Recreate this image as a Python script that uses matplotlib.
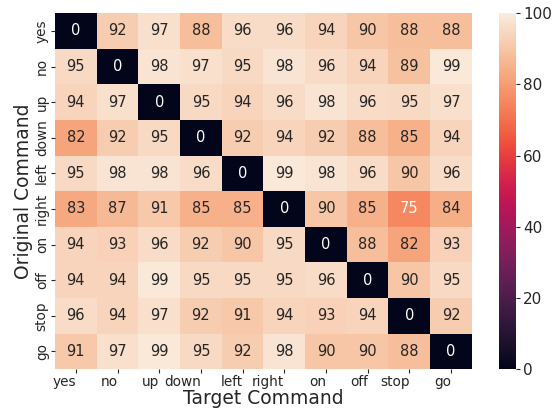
import numpy as np
import matplotlib
matplotlib.use("Agg")
import matplotlib.pyplot as plt
import seaborn as sns

commands = ["yes", "no", "up", "down", "left", "right", "on", "off", "stop", "go"]

rate = np.array([
    [0, 92, 97, 88, 96, 96, 94, 90, 88, 88],
    [95, 0, 98, 97, 95, 98, 96, 94, 89, 99],
    [94, 97, 0, 95, 94, 96, 98, 96, 95, 97],
    [82, 92, 95, 0, 92, 94, 92, 88, 85, 94],
    [95, 98, 98, 96, 0, 99, 98, 96, 90, 96],
    [83, 87, 91, 85, 85, 0, 90, 85, 75, 84],
    [94, 93, 96, 92, 90, 95, 0, 88, 82, 93],
    [94, 94, 99, 95, 95, 95, 96, 0, 90, 95],
    [96, 94, 97, 92, 91, 94, 93, 94, 0, 92],
    [91, 97, 99, 95, 92, 98, 90, 90, 88, 0],
])

plt.rcParams["text.color"] = "#262626"
plt.rcParams["xtick.color"] = "#262626"
plt.rcParams["ytick.color"] = "#262626"
plt.rcParams["axes.labelcolor"] = "#262626"

fig = plt.figure(figsize=(5.58, 4.12), dpi=100)
ax = fig.add_axes([0.0986, 0.104, 0.747, 0.864])
cax = fig.add_axes([0.894, 0.104, 0.031, 0.864])

sns.heatmap(rate, annot=True, fmt="d", vmin=0, vmax=100, ax=ax, cbar_ax=cax,
            xticklabels=commands, yticklabels=commands,
            annot_kws={"size": 10.5})

ax.set_xticklabels(commands, rotation=0, ha="right", fontsize=9.8)
ax.set_yticklabels(commands, rotation=90, va="center", fontsize=9.8)
ax.tick_params(length=3, pad=1.5)
ax.set_xlabel("Target Command", fontsize=13.5, labelpad=0)
ax.set_ylabel("Original Command", fontsize=13.5, labelpad=1)
cax.tick_params(labelsize=11, length=3, pad=2)

fig.savefig("out.png", dpi=100)
